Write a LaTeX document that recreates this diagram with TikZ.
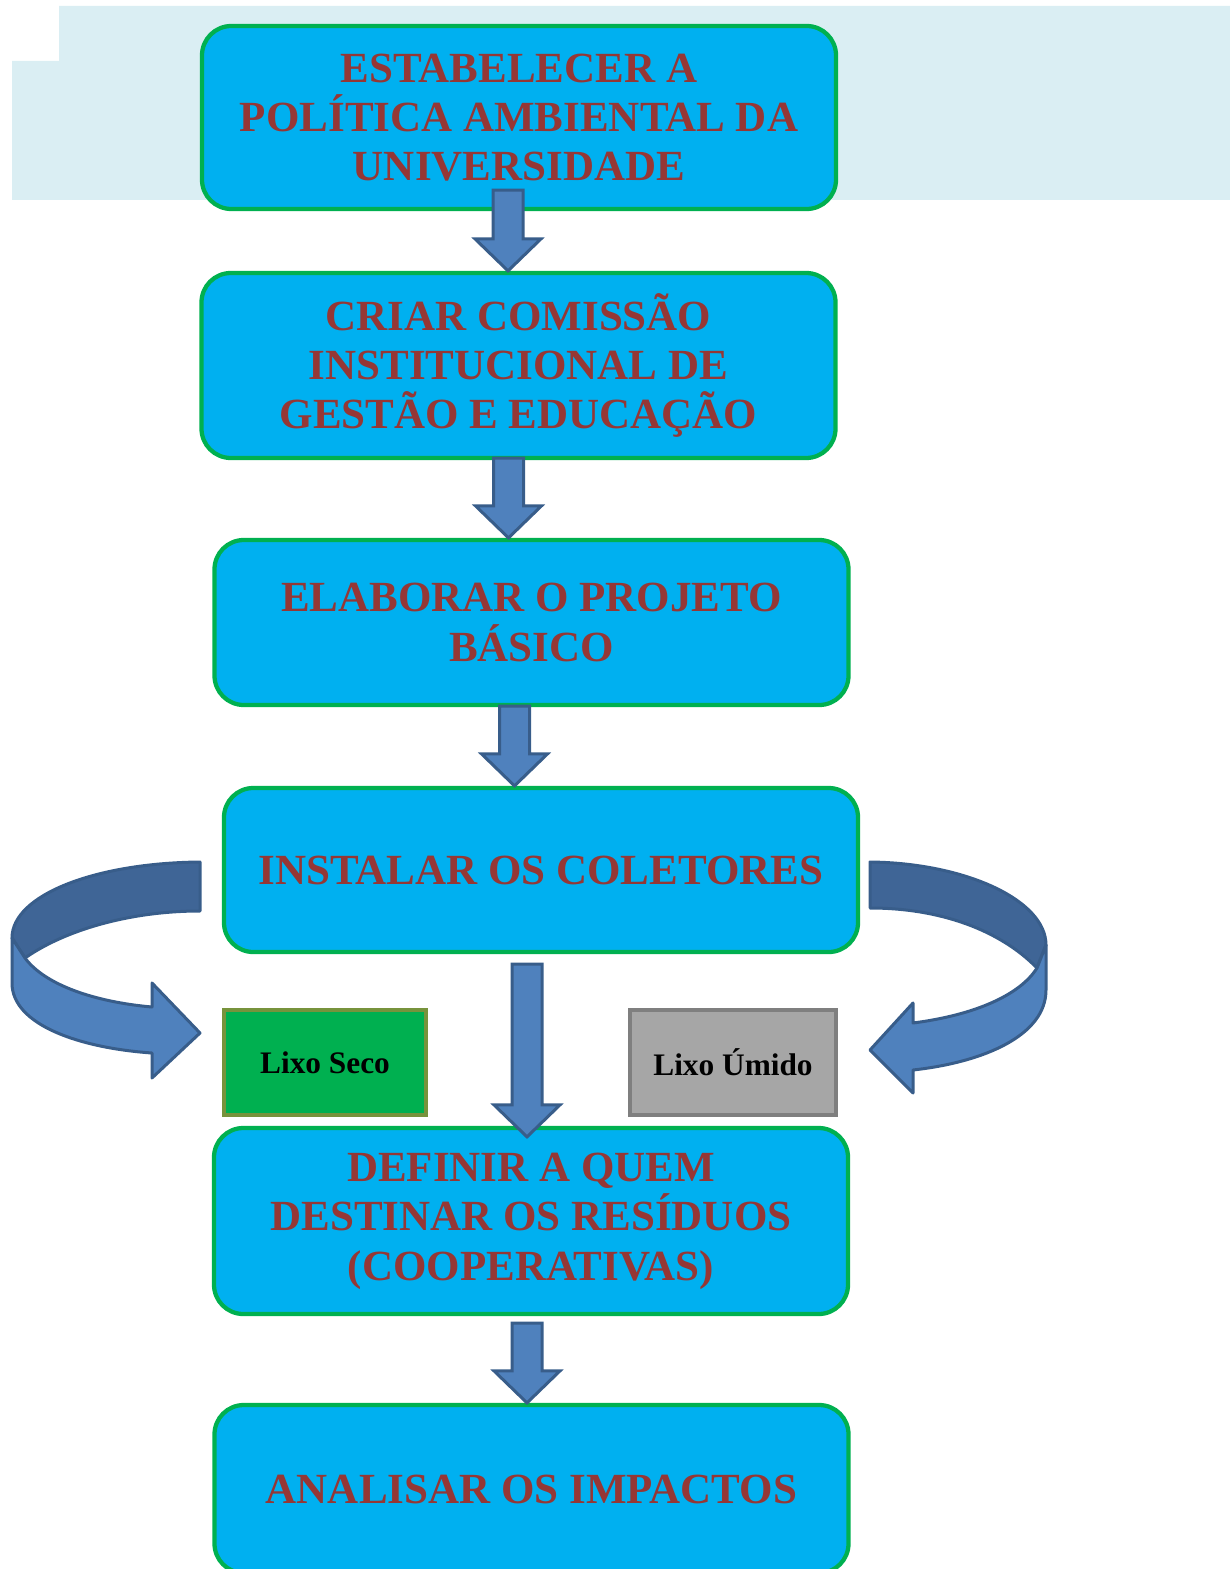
\documentclass[tikz,border=0pt]{standalone}
\usepackage{fontspec}
\setmainfont{Liberation Serif}
\usetikzlibrary{calc}

\definecolor{stepfill}{HTML}{00B0F0}
\definecolor{stepline}{HTML}{00B050}
\definecolor{steptext}{HTML}{953735}
\definecolor{arrowfill}{HTML}{4F81BD}
\definecolor{arrowdark}{HTML}{3F6596}
\definecolor{arrowline}{HTML}{385D8A}
\definecolor{bgblue}{HTML}{DAEEF3}
\definecolor{secoline}{HTML}{77933C}
\definecolor{umidofill}{HTML}{A6A6A6}
\definecolor{umidoline}{HTML}{7F7F7F}

\tikzset{
  stepbox/.style={rectangle, rounded corners=22pt, draw=stepline, fill=stepfill,
    line width=3.2pt, align=center, text=steptext, minimum width=475.5pt,
    font=\fontsize{32.25}{37}\selectfont\bfseries},
  binbox/.style={rectangle, line width=3pt, minimum height=78.75pt,
    font=\fontsize{23.5}{28}\selectfont\bfseries},
  blockarrow/.style={fill=arrowfill, draw=arrowline, line width=2.25pt, line join=miter}
}

\newcommand{\flowarrow}[2]{%
  \path[blockarrow] let \p1=#1, \p2=#2 in
    (\x1-11.25pt,\y1) -- (\x1+11.25pt,\y1) -- (\x1+11.25pt,\y2+24pt)
    -- (\x1+24.75pt,\y2+24pt) -- (\x1,\y2) -- (\x1-24.75pt,\y2+24pt)
    -- (\x1-11.25pt,\y2+24pt) -- cycle;}

\begin{document}
\begin{tikzpicture}[x=0.75pt, y=-0.75pt]
                \useasboundingbox (0,0) rectangle (1230,1569);
                \fill[bgblue] (59,6) -- (1230,6) -- (1230,200) -- (12,200) -- (12,61) -- (59,61) -- cycle;
                \begin{scope}[every node/.style={stepbox}]
                    \node (b1) [minimum height=137.25pt] at (519,117.5) {ESTABELECER A\\POLÍTICA AMBIENTAL DA\\UNIVERSIDADE};
                    \node (b2) [minimum height=138.75pt] at (518.5,365.5) {CRIAR COMISSÃO\\INSTITUCIONAL DE\\GESTÃO E EDUCAÇÃO};
                    \node (b3) [minimum height=123.75pt] at (531.5,622.5) {ELABORAR O PROJETO\\BÁSICO};
                    \node (b4) [minimum height=123pt] at (541,870) {INSTALAR OS COLETORES};
                    \node (b5) [minimum height=139.5pt] at (531,1221) {DEFINIR A QUEM\\DESTINAR OS RESÍDUOS\\(COOPERATIVAS)};
                    \node (b6) [minimum height=126pt] at (531.5,1489) {ANALISAR OS IMPACTOS};
                \end{scope}
                \begin{scope}[every node/.style={binbox}]
                    \node (seco) [fill=stepline, draw=secoline, minimum width=151.5pt] at (325,1062.5) {Lixo Seco};
                    \node (umido) [fill=umidofill, draw=umidoline, minimum width=154.5pt] at (733,1062.5) {Lixo Úmido};
                \end{scope}
                % straight arrows between the steps
                \flowarrow{($(b1.south)+(-11,-21)$)}{(b2.north)}
                \flowarrow{($(b2.south)+(-10,-2)$)}{(b3.north)}
                \flowarrow{($(b3.south)+(-17,-1)$)}{(b4.north)}
                \flowarrow{($(b4.south)+(-14,10)$)}{($(b5.north)+(0,11)$)}
                \flowarrow{($(b5.south)+(-4,7)$)}{(b6.north)}
                % curved arrows to the bins
                \begin{scope}[line width=2.25pt, draw=arrowline, line join=round]
                    \filldraw[fill=arrowdark] (200,862) .. controls (95,863) and (12,895) .. (12,938)
                        -- (25,958) .. controls (65,930) and (130,911) .. (200,911) -- cycle;
                    \filldraw[fill=arrowfill] (12,938) -- (12,983) .. controls (12,1025) and (80,1048) .. (152,1053)
                        -- (152,1078) -- (200,1033) -- (152,983) -- (152,1007)
                        .. controls (95,1002) and (45,985) .. (25,958) -- cycle;
                    \filldraw[fill=arrowdark] (870,862) .. controls (965,863) and (1046,900) .. (1046,945)
                        -- (1037,968) .. controls (1000,930) and (940,908) .. (870,908) -- cycle;
                    \filldraw[fill=arrowfill] (1046,945) -- (1046,990) .. controls (1046,1035) and (985,1062) .. (913,1070)
                        -- (913,1093) -- (870,1050) -- (913,1003) -- (913,1023)
                        .. controls (975,1015) and (1020,995) .. (1037,968) -- cycle;
                \end{scope}
            \end{tikzpicture}
\end{document}
